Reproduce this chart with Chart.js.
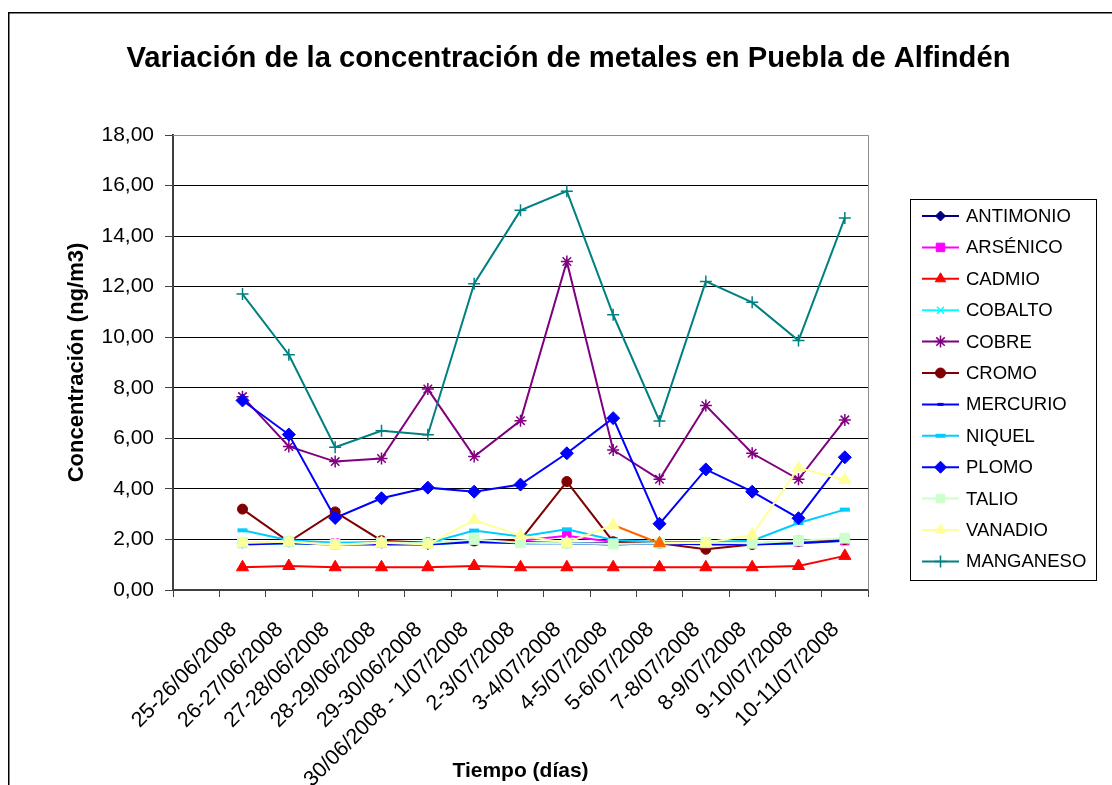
<!DOCTYPE html>
<html lang="es">
<head>
<meta charset="utf-8">
<title>Variación de la concentración de metales en Puebla de Alfindén</title>
<script src="https://cdn.jsdelivr.net/npm/chart.js@4/dist/chart.umd.min.js"></script>
<style>
  html, body { margin: 0; padding: 0; background: #ffffff; }
  #wrap { position: relative; width: 1112px; height: 785px; overflow: hidden; }
  canvas { display: block; }
</style>
</head>
<body>
<div id="wrap"><canvas id="chart" width="1112" height="785"></canvas></div>
<script>
// Sampling periods (the first slot is an empty category on the axis)
const categories = ['', '25-26/06/2008', '26-27/06/2008', '27-28/06/2008', '28-29/06/2008',
  '29-30/06/2008', '30/06/2008 - 1/07/2008', '2-3/07/2008', '3-4/07/2008', '4-5/07/2008',
  '5-6/07/2008', '7-8/07/2008', '8-9/07/2008', '9-10/07/2008', '10-11/07/2008'];

// Concentrations in ng/m3
const antimonio = [null, 1.85, 1.90, 1.80, 1.85, 1.80, 1.95, 1.90, 1.85, 1.85, 1.85, 1.85, 1.80, 1.90, 2.00];
const arsenico  = [null, 1.85, 1.90, 1.85, 1.85, 1.85, 1.95, 1.95, 2.15, 1.90, 1.85, 1.85, 1.85, 1.90, 1.95];
const cadmio    = [null, 0.90, 0.95, 0.90, 0.90, 0.90, 0.95, 0.90, 0.90, 0.90, 0.90, 0.90, 0.90, 0.95, 1.35];
const cobalto   = [null, 1.80, 1.85, 1.80, 1.85, 1.80, 1.90, 1.85, 1.85, 1.80, 1.85, 1.85, 1.80, 1.85, 1.95];
const cobre     = [null, 7.65, 5.68, 5.08, 5.20, 7.95, 5.28, 6.70, 13.00, 5.54, 4.38, 7.30, 5.41, 4.38, 6.73];
const cromo     = [null, 3.20, 1.91, 3.09, 1.95, 1.87, 1.94, 1.97, 4.29, 1.91, 1.85, 1.61, 1.80, 1.94, 2.00];
const mercurio  = [null, 1.80, 1.85, 1.80, 1.80, 1.80, 1.90, 1.85, 1.85, 1.80, 1.85, 1.80, 1.80, 1.85, 1.95];
const niquel    = [null, 2.36, 1.97, 1.87, 1.90, 1.85, 2.35, 2.12, 2.40, 1.98, 1.90, 1.90, 1.95, 2.65, 3.18];
const plomo     = [null, 7.50, 6.15, 2.85, 3.63, 4.05, 3.89, 4.17, 5.41, 6.80, 2.62, 4.77, 3.89, 2.84, 5.25];
const talio     = [null, 1.87, 1.91, 1.80, 1.87, 1.85, 2.00, 1.87, 1.85, 1.82, 1.85, 1.87, 1.85, 1.95, 2.05];
const vanadio   = [null, 1.88, 1.91, 1.78, 1.87, 1.80, 2.77, 2.15, 1.87, 2.57, 1.85, 1.87, 2.18, 4.83, 4.36];
const manganeso = [null, 11.71, 9.31, 5.65, 6.30, 6.14, 12.12, 15.02, 15.78, 10.89, 6.69, 12.21, 11.38, 9.87, 14.72];

const seriesNames = ['ANTIMONIO', 'ARSÉNICO', 'CADMIO', 'COBALTO', 'COBRE', 'CROMO',
  'MERCURIO', 'NIQUEL', 'PLOMO', 'TALIO', 'VANADIO', 'MANGANESO'];
const seriesValues = [antimonio, arsenico, cadmio, cobalto, cobre, cromo,
  mercurio, niquel, plomo, talio, vanadio, manganeso];

// y axis ticks
const yMin = 0, yMax = 18, yStep = 2;

// Line colour and marker for each series
const seriesStyles = [
  { color: '#000080', marker: 'rectRot',  radius: 5, bw: 1 },
  { color: '#FF00FF', marker: 'rect',     radius: 6, bw: 1 },
  { color: '#FF0000', marker: 'triangle', radius: 7, bw: 1 },
  { color: '#00FFFF', marker: 'crossRot', radius: 5, bw: 1.5 },
  { color: '#800080', marker: 'star',     radius: 6, bw: 1.5 },
  { color: '#800000', marker: 'circle',   radius: 5, bw: 1 },
  { color: '#0000FF', marker: 'line',     radius: 3, bw: 3 },
  { color: '#00CCFF', marker: 'line',     radius: 5, bw: 4 },
  { color: '#0000FF', marker: 'rectRot',  radius: 6.5, bw: 1 },
  { color: '#CCFFCC', marker: 'rect',     radius: 7, bw: 1 },
  { color: '#FFFF99', marker: 'triangle', radius: 7, bw: 1 },
  { color: '#008080', marker: 'cross',    radius: 6, bw: 1.5 }
];
// One highlighted sample of the vanadium series
const vanadioAccent = { color: '#FF6600', index: 10 };

const FONT = "'Liberation Sans', Arial, Helvetica, sans-serif";

const datasets = seriesNames.map((name, i) => {
  const st = seriesStyles[i];
  const ds = {
    label: name,
    data: seriesValues[i],
    yAxisID: 'y',
    borderColor: st.color,
    backgroundColor: st.color,
    borderWidth: 2,
    pointStyle: st.marker,
    pointRadius: st.radius,
    pointHoverRadius: st.radius,
    pointBackgroundColor: st.color,
    pointBorderColor: st.color,
    pointBorderWidth: st.bw,
    tension: 0,
    spanGaps: false,
    order: seriesNames.length - i
  };
  if (name === 'VANADIO') {
    const pc = seriesValues[i].map((v, k) => k === vanadioAccent.index ? vanadioAccent.color : st.color);
    ds.pointBackgroundColor = pc;
    ds.pointBorderColor = pc;
    ds.segment = {
      borderColor: ctx => ctx.p1DataIndex === vanadioAccent.index ? vanadioAccent.color : undefined
    };
  }
  return ds;
});

// White page, outer frame and the grey plot-area border
const framePlugin = {
  id: 'frame',
  beforeDraw(chart) {
    const ctx = chart.ctx;
    ctx.save();
    ctx.fillStyle = '#ffffff';
    ctx.fillRect(0, 0, chart.width, chart.height);
    ctx.strokeStyle = '#000000';
    ctx.lineWidth = 1.5;
    ctx.strokeRect(8.75, 12.75, chart.width + 40, chart.height + 40);
    ctx.restore();
  },
  beforeDatasetsDraw(chart) {
    const a = chart.chartArea;
    const ctx = chart.ctx;
    ctx.save();
    ctx.strokeStyle = '#8c8c8c';
    ctx.lineWidth = 1;
    ctx.beginPath();
    ctx.moveTo(a.left, Math.round(a.top) + 0.5);
    ctx.lineTo(Math.round(a.right) + 0.5, Math.round(a.top) + 0.5);
    ctx.lineTo(Math.round(a.right) + 0.5, a.bottom);
    ctx.stroke();
    ctx.restore();
  }
};

// Boxed legend on the right: line sample with marker, then the name
const boxLegendPlugin = {
  id: 'boxLegend',
  afterDraw(chart) {
    const ctx = chart.ctx;
    const box = { x: 910.5, y: 199.5, w: 186, h: 381 };
    const firstY = 216, step = 31.4;
    ctx.save();
    ctx.strokeStyle = '#000000';
    ctx.lineWidth = 1;
    ctx.strokeRect(box.x, box.y, box.w, box.h);
    chart.data.datasets.forEach((ds, i) => {
      const st = seriesStyles[i];
      const y = firstY + i * step;
      ctx.strokeStyle = st.color;
      ctx.lineWidth = 2;
      ctx.beginPath();
      ctx.moveTo(922, y);
      ctx.lineTo(959, y);
      ctx.stroke();
      ctx.fillStyle = st.color;
      ctx.strokeStyle = st.color;
      ctx.lineWidth = st.bw;
      Chart.helpers.drawPoint(ctx, {
        pointStyle: st.marker,
        radius: Math.min(st.radius, 6),
        borderWidth: st.bw,
        rotation: 0
      }, 940.5, y);
      ctx.fillStyle = '#000000';
      ctx.font = '18.5px ' + FONT;
      ctx.textAlign = 'left';
      ctx.textBaseline = 'middle';
      ctx.fillText(ds.label, 966, y + 1);
    });
    ctx.restore();
  }
};

new Chart(document.getElementById('chart'), {
  type: 'line',
  data: { labels: categories, datasets },
  plugins: [framePlugin, boxLegendPlugin],
  options: {
    responsive: false,
    animation: false,
    devicePixelRatio: 1,
    layout: { padding: { left: 25, top: 0, right: 0, bottom: 0 } },
    plugins: {
      legend: { display: false },
      tooltip: { enabled: false },
      title: {
        display: true,
        text: 'Variación de la concentración de metales en Puebla de Alfindén',
        color: '#000000',
        font: { family: FONT, size: 29.2, weight: 'bold', lineHeight: 1.2 },
        padding: { top: 41, bottom: 59 }
      }
    },
    scales: {
      x: {
        type: 'category',
        offset: true,
        grid: {
          offset: true,
          drawOnChartArea: false,
          drawTicks: true,
          tickLength: 7,
          color: '#404040',
          tickColor: '#404040',
          lineWidth: 1
        },
        border: { display: true, color: '#404040', width: 2 },
        ticks: {
          autoSkip: false,
          maxRotation: 45,
          minRotation: 45,
          padding: 20,
          labelOffset: -9,
          color: '#000000',
          font: { family: FONT, size: 21.5 }
        },
        title: {
          display: true,
          text: 'Tiempo (días)',
          color: '#000000',
          font: { family: FONT, size: 21, weight: 'bold', lineHeight: 1.2 },
          padding: { top: 0, bottom: 1 }
        },
        afterFit(scale) { scale.height = 195; }
      },
      y: {
        position: 'left',
        min: yMin,
        max: yMax,
        grid: {
          color: ctx => (ctx.tick && ctx.tick.value === yMax) ? '#8c8c8c' : '#000000',
          tickColor: '#404040',
          tickLength: 8,
          lineWidth: 1
        },
        border: { display: true, color: '#404040', width: 2 },
        ticks: {
          stepSize: yStep,
          padding: 11,
          color: '#000000',
          font: { family: FONT, size: 21 },
          callback: v => Number(v).toFixed(2).replace('.', ',')
        },
        title: {
          display: true,
          text: 'Concentración (ng/m3)',
          color: '#000000',
          font: { family: FONT, size: 22, weight: 'bold', lineHeight: 1.2 },
          padding: { top: 39, bottom: 0 }
        },
        afterFit(scale) { scale.width = 148; }
      },
      // empty band on the right that holds the legend box
      legendBand: {
        position: 'right',
        display: true,
        min: yMin,
        max: yMax,
        grid: { display: false },
        border: { display: false },
        ticks: { display: false },
        afterFit(scale) { scale.width = 244; }
      }
    }
  }
});
</script>
</body>
</html>
